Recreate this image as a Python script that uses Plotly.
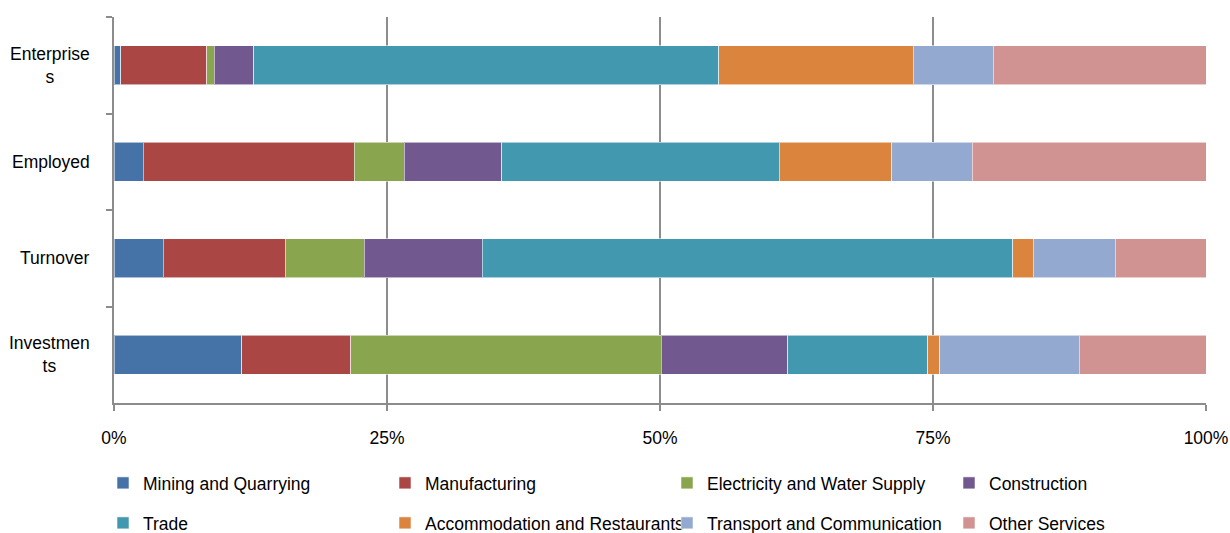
import plotly.graph_objects as go

categories = ["Enterprises", "Employed", "Turnover", "Investments"]
category_labels = ["Enterprise<br>s", "Employed", "Turnover", "Investmen<br>ts"]

sectors = [
    "Mining and Quarrying", "Manufacturing", "Electricity and Water Supply", "Construction",
    "Trade", "Accommodation and Restaurants", "Transport and Communication", "Other Services",
]

mining = [0.6, 2.7, 4.5, 11.7]
manufacturing = [7.9, 19.3, 11.2, 10.0]
electricity = [0.7, 4.6, 7.2, 28.4]
construction = [3.6, 8.9, 10.8, 11.6]
trade = [42.6, 25.4, 48.6, 12.8]
accommodation = [17.8, 10.3, 1.9, 1.1]
transport = [7.3, 7.4, 7.5, 12.8]
other = [19.5, 21.4, 8.3, 11.6]

series = [mining, manufacturing, electricity, construction, trade, accommodation, transport, other]
colors = ["#4572A7", "#AA4643", "#89A54E", "#71588F", "#4198AF", "#DB843D", "#93A9CF", "#D19392"]

x_ticks = [0, 25, 50, 75, 100]

FONT = "Liberation Sans, Arial, sans-serif"
FS = 17.5
GREY = "#8c8c8c"

fig = go.Figure()
for i, (name, vals, col) in enumerate(zip(sectors, series, colors)):
    fig.add_trace(go.Bar(
        y=categories, x=vals, name=name, orientation="h",
        marker=dict(color=col, line=dict(color="rgba(255,255,255,0.55)", width=1)),
        width=0.4,
        legend="legend" if i < 4 else "legend2",
    ))

for cat, lab in zip(categories, category_labels):
    fig.add_annotation(
        x=-22 / 1092, xref="paper", y=cat, yref="y", text=lab, showarrow=False,
        xanchor="right", yanchor="middle", align="center",
        font=dict(family=FONT, size=FS, color="#000000"),
    )

legend_common = dict(
    orientation="h", xanchor="left", yanchor="middle", x=-11 / 1092,
    entrywidth=237, entrywidthmode="pixels", itemclick=False,
    font=dict(family=FONT, size=FS, color="#000000"), bgcolor="rgba(0,0,0,0)",
    traceorder="normal",
)

fig.update_layout(
    width=1230, height=533,
    margin=dict(l=114, r=24, t=17, b=130, autoexpand=False),
    paper_bgcolor="white", plot_bgcolor="white",
    barmode="stack", bargap=0.6,
    font=dict(family=FONT, size=FS, color="#000000"),
    legend=dict(legend_common, y=-80 / 386),
    legend2=dict(legend_common, y=-120 / 386),
    xaxis=dict(
        range=[0, 100], tickvals=x_ticks, ticktext=[f"{v}%" for v in x_ticks],
        showgrid=True, gridcolor=GREY, gridwidth=2,
        showline=True, linecolor=GREY, linewidth=2,
        ticks="outside", ticklen=6, tickcolor=GREY, tickwidth=2,
        ticklabelstandoff=12, ticklabeloverflow="allow", zeroline=False,
        tickfont=dict(family=FONT, size=FS, color="#000000"),
    ),
    yaxis=dict(
        categoryorder="array", categoryarray=categories, autorange="reversed",
        showline=True, linecolor=GREY, linewidth=2,
        ticks="outside", ticklen=6, tickcolor=GREY, tickwidth=2,
        tickson="boundaries", showticklabels=False, showgrid=False, zeroline=False,
    ),
)

fig.write_html("out.html")
